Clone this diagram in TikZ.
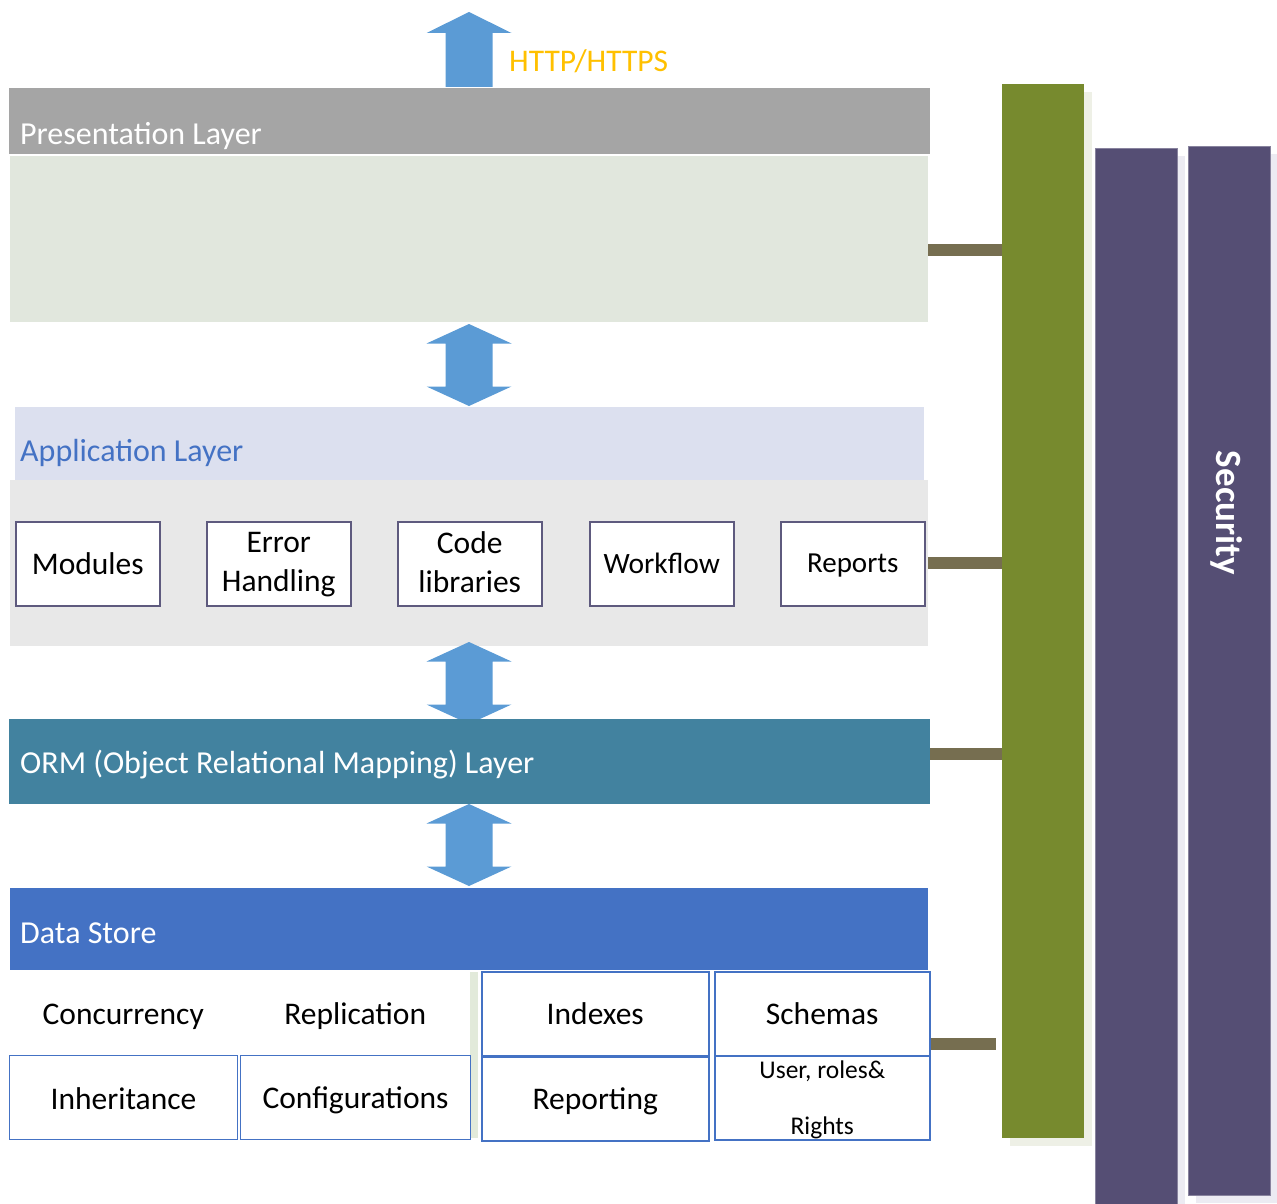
\documentclass[tikz,border=0pt]{standalone}
\usepackage{fontspec}
\setmainfont{Carlito}
\definecolor{hdrgray}{HTML}{A5A5A5}
\definecolor{presbg}{HTML}{E1E7DD}
\definecolor{apphdr}{HTML}{DCE0EF}
\definecolor{appbg}{HTML}{E8E8E8}
\definecolor{arrowblue}{HTML}{5B9BD5}
\definecolor{ormteal}{HTML}{42829F}
\definecolor{dsblue}{HTML}{4472C4}
\definecolor{boxline}{HTML}{5E5A7E}
\definecolor{olive}{HTML}{778A2E}
\definecolor{purplebar}{HTML}{554E74}
\definecolor{connbrown}{HTML}{766E50}
\definecolor{orangetxt}{HTML}{FFC000}
\definecolor{greenstrip}{HTML}{E2EADA}
\definecolor{shadowg}{HTML}{EEF0E6}
\definecolor{shadowp}{HTML}{ECEBF2}
\newcommand{\FatDArrow}[3]{% x center, top y, bottom y
  \fill[arrowblue] (#1,#2) -- (#1+42.5,#2+19.5) -- (#1+23.5,#2+19.5) -- (#1+23.5,#3-19.5) -- (#1+42.5,#3-19.5)
    -- (#1,#3) -- (#1-42.5,#3-19.5) -- (#1-23.5,#3-19.5) -- (#1-23.5,#2+19.5) -- (#1-42.5,#2+19.5) -- cycle;}
\begin{document}
\begin{tikzpicture}[x=1pt,y=-1pt,
  band/.style={anchor=north west,inner sep=0pt,outer sep=0pt,draw=none},
  hdrtext/.style={anchor=west,inner sep=0pt,text=white,font=\fontsize{32}{36}\selectfont},
  appbox/.style={anchor=north west,draw=boxline,line width=1.5pt,fill=white,minimum width=144pt,minimum height=84pt,inner sep=2pt,align=center,font=\fontsize{31.5}{39}\selectfont},
  dsbox/.style={anchor=north west,draw=dsblue,line width=1.5pt,fill=white,minimum height=84pt,inner sep=2pt,align=center,font=\fontsize{31.5}{36}\selectfont},
  plain/.style={anchor=north west,minimum height=84pt,inner sep=2pt,align=center,font=\fontsize{31.5}{36}\selectfont},
  conn/.style={draw=connbrown,line width=12pt},
  vbar/.style={anchor=north west,inner sep=0pt,outer sep=0pt}
]
\useasboundingbox (0,0) rectangle (1277,1204);

% vertical bars with faint shadows
\fill[shadowg] (1010,92) rectangle (1092,1146);
\node[vbar,fill=olive,minimum width=82pt,minimum height=1054pt] (green) at (1002,84) {};
\fill[shadowp] (1103,156) rectangle (1185,1204);
\node[vbar,fill=purplebar,draw=purplebar!70!white,line width=0.6pt,minimum width=82pt,minimum height=1056pt] (purpleA) at (1095,148) {};
\fill[shadowp] (1196,154) rectangle (1278,1203);
\node[vbar,fill=purplebar,draw=purplebar!70!white,line width=0.6pt,minimum width=82pt,minimum height=1049pt] (purpleB) at (1188,146) {};
\node[rotate=-90,text=white,font=\bfseries\fontsize{37}{40}\selectfont] (security) at (1227,513) {Security};

% top arrow
\fill[arrowblue] (469,12) -- (511.5,33) -- (492.5,33) -- (492.5,87) -- (445.5,87) -- (445.5,33) -- (426.5,33) -- cycle;
\node[anchor=west,inner sep=0pt,text=orangetxt,font=\fontsize{31.5}{36}\selectfont] (http) at (509,61) {HTTP/HTTPS};

% presentation layer
\node[band,fill=hdrgray,minimum width=921pt,minimum height=66pt] (preshdr) at (9,88) {};
\node[hdrtext] (preslbl) at (20,136) {Presentation Layer};
\node[band,fill=presbg,minimum width=918pt,minimum height=166pt] (presbody) at (10,156) {};

\FatDArrow{469}{324}{406}

% application layer
\node[band,fill=apphdr,minimum width=909pt,minimum height=73pt] (apphdr) at (15,407) {};
\node[hdrtext,text=dsblue] (applbl) at (20,453) {Application Layer};
\node[band,fill=appbg,minimum width=918pt,minimum height=166pt] (appbody) at (10,480) {};
\node[appbox] (modules) at (15,521) {Modules};
\node[appbox,text depth=4pt] (error) at (206,521) {Error\\Handling};
\node[appbox,text depth=4pt] (code) at (397,521) {Code\\libraries};
\node[appbox,font=\fontsize{29.5}{34}\selectfont] (workflow) at (589,521) {Workflow};
\node[appbox,font=\fontsize{29}{34}\selectfont,text height=23pt] (reports) at (780,521) {Reports};

\FatDArrow{469}{642}{724}

% ORM layer
\node[band,fill=ormteal,minimum width=921pt,minimum height=85pt] (orm) at (9,719) {};
\node[hdrtext] (ormlbl) at (20,765) {ORM (Object Relational Mapping) Layer};

\FatDArrow{469}{804}{886}

% data store
\node[band,fill=dsblue,minimum width=918pt,minimum height=82pt] (ds) at (10,888) {};
\node[hdrtext] (dslbl) at (20,933) {Data Store};
\fill[greenstrip] (470,972) rectangle (478,1138);
\node[plain,minimum width=228pt] (conc) at (9,975) {Concurrency};
\node[plain,minimum width=230pt] (repl) at (240,974) {Replication};
\node[dsbox,minimum width=228pt,line width=1pt,text height=24pt] (inh) at (9,1055) {Inheritance};
\node[dsbox,minimum width=230pt,line width=1pt,text height=27pt] (conf) at (240,1055) {Configurations};
\node[dsbox,minimum width=227pt] (idx) at (481,971) {Indexes};
\node[dsbox,minimum width=215pt] (schemas) at (714,971) {Schemas};
\node[dsbox,minimum width=227pt,text height=27pt] (reporting) at (481,1056) {Reporting};
\node[dsbox,minimum width=215pt,font=\fontsize{25.5}{28}\selectfont,text depth=1pt] (users) at (714,1055) {User, roles\&\\[28pt]Rights};

% connectors to the olive bar
\draw[conn] ([yshift=-11pt]presbody.east) -- ([yshift=-11pt]presbody.east -| green.west);
\draw[conn] (appbody.east) -- (appbody.east -| green.west);
\draw[conn] ([yshift=7.5pt]orm.east) -- ([yshift=7.5pt]orm.east -| green.west);
\draw[conn] ([yshift=-30pt]schemas.east) -- ([yshift=-30pt,xshift=-6pt]schemas.east -| green.west);
\end{tikzpicture}
\end{document}
